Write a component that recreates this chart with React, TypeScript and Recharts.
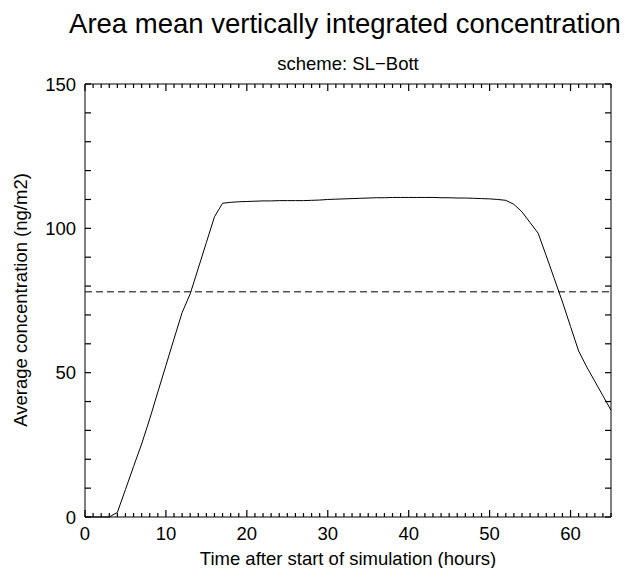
import {
  LineChart,
  Line,
  XAxis,
  YAxis,
  ReferenceLine
} from "recharts";

// hours after start of simulation
const hours = [
  0, 1, 2, 3, 4, 5, 6, 7, 8, 9, 10, 11, 12, 13, 14, 15, 16, 17, 18, 19, 20, 21,
  22, 23, 24, 25, 26, 27, 28, 29, 30, 31, 32, 33, 34, 35, 36, 37, 38, 39, 40,
  41, 42, 43, 44, 45, 46, 47, 48, 49, 50, 51, 52, 53, 54, 55, 56, 57, 58, 59,
  60, 61, 62, 63, 64, 65
];

// area mean vertically integrated concentration (ng/m2)
const concentration = [
  0, 0, 0, 0, 1.6, 9.5, 17.5, 25.3, 34, 43.3, 52.5, 61.7, 70.8, 77.3, 86.2,
  95.1, 104, 108.7, 109.0, 109.2, 109.3, 109.4, 109.5, 109.5, 109.6, 109.6,
  109.6, 109.6, 109.7, 109.8, 110.0, 110.1, 110.2, 110.3, 110.4, 110.5, 110.6,
  110.6, 110.7, 110.7, 110.7, 110.7, 110.7, 110.7, 110.6, 110.6, 110.5, 110.5,
  110.4, 110.3, 110.2, 110.0, 109.7, 108.3, 105.7, 102.0, 98.3, 90.5, 82.5,
  74.5, 66.0, 57.5, 52.0, 47.0, 42.0, 37.0
];

// time mean of the series (dashed line)
const meanConcentration = 78;

const xTicks = hours; // minor every hour, labelled every 10
const yTicks = [0, 10, 20, 30, 40, 50, 60, 70, 80, 90, 100, 110, 120, 130, 140, 150];
const xLabelled = [0, 10, 20, 30, 40, 50, 60];
const yLabelled = [0, 50, 100, 150];

const data = hours.map((h, i) => ({ hour: h, conc: concentration[i] }));

const FONT = "'Liberation Sans', Arial, Helvetica, sans-serif";
const LABEL = 18.5;

function BottomTick(props: any) {
  const { x, y, payload } = props;
  const major = xLabelled.includes(payload.value);
  const len = major ? 7 : 4;
  return (
    <g>
      <rect x={x - 0.6} y={y - len} width={1.2} height={len} fill="#000" />
      {major && (
        <text x={x} y={y + 23} textAnchor="middle" fontSize={LABEL} fontFamily={FONT} fill="#000">
          {payload.value}
        </text>
      )}
    </g>
  );
}

function TopTick(props: any) {
  const { x, y, payload } = props;
  const major = xLabelled.includes(payload.value);
  const len = major ? 7 : 4;
  return (
    <g>
      <rect x={x - 0.6} y={y} width={1.2} height={len} fill="#000" />
    </g>
  );
}

function LeftTick(props: any) {
  const { x, y, payload } = props;
  const major = yLabelled.includes(payload.value);
  return (
    <g>
      <rect x={x} y={y - 0.6} width={6} height={1.2} fill="#000" />
      {major && (
        <text x={x - 9} y={y + 6.5} textAnchor="end" fontSize={LABEL} fontFamily={FONT} fill="#000">
          {payload.value}
        </text>
      )}
    </g>
  );
}

function RightTick(props: any) {
  const { x, y } = props;
  return (
    <g>
      <rect x={x - 6} y={y - 0.6} width={6} height={1.2} fill="#000" />
    </g>
  );
}

export default function App() {
  return (
    <div style={{ position: "absolute", left: 0, top: 0, background: "#fff" }}>
      <LineChart
        width={630}
        height={568}
        data={data}
        margin={{ top: 83, right: 18, bottom: 50, left: 84 }}
      >
        <text x={345} y={33} textAnchor="middle" fontSize={27.5} fontFamily={FONT} fill="#000">
          Area mean vertically integrated concentration
        </text>
        <text x={348} y={70} textAnchor="middle" fontSize={LABEL} fontFamily={FONT} fill="#000">
          scheme: SL−Bott
        </text>
        <text x={348} y={565} textAnchor="middle" fontSize={LABEL} fontFamily={FONT} fill="#000">
          Time after start of simulation (hours)
        </text>
        <text
          transform="translate(27,300) rotate(-90)"
          textAnchor="middle"
          fontSize={LABEL}
          fontFamily={FONT}
          fill="#000"
        >
          Average concentration (ng/m2)
        </text>
        <XAxis
          xAxisId="b"
          dataKey="hour"
          type="number"
          domain={[0, 65]}
          ticks={xTicks}
          interval={0}
          height={1}
          tickSize={0}
          tickMargin={0}
          tickLine={false}
          tick={(p: any) => <BottomTick {...p} />}
          axisLine={{ stroke: "#000" }}
        />
        <XAxis
          xAxisId="t"
          orientation="top"
          dataKey="hour"
          type="number"
          domain={[0, 65]}
          ticks={xTicks}
          interval={0}
          height={1}
          tickSize={0}
          tickMargin={0}
          tickLine={false}
          tick={(p: any) => <TopTick {...p} />}
          axisLine={{ stroke: "#000" }}
        />
        <YAxis
          yAxisId="l"
          type="number"
          domain={[0, 150]}
          ticks={yTicks}
          interval={0}
          width={1}
          tickSize={0}
          tickMargin={0}
          tickLine={false}
          tick={(p: any) => <LeftTick {...p} />}
          axisLine={{ stroke: "#000" }}
        />
        <YAxis
          yAxisId="r"
          orientation="right"
          type="number"
          domain={[0, 150]}
          ticks={yTicks}
          interval={0}
          width={1}
          tickSize={0}
          tickMargin={0}
          tickLine={false}
          tick={(p: any) => <RightTick {...p} />}
          axisLine={{ stroke: "#000" }}
        />
        <ReferenceLine
          xAxisId="b"
          yAxisId="l"
          y={meanConcentration}
          stroke="#000"
          strokeDasharray="7 4"
        />
        <Line
          xAxisId="b"
          yAxisId="l"
          type="linear"
          dataKey="conc"
          stroke="#000"
          strokeWidth={1}
          dot={false}
          isAnimationActive={false}
        />
        <Line
          xAxisId="t"
          yAxisId="r"
          type="linear"
          dataKey="conc"
          stroke="none"
          dot={false}
          activeDot={false}
          legendType="none"
          isAnimationActive={false}
        />
      </LineChart>
    </div>
  );
}
